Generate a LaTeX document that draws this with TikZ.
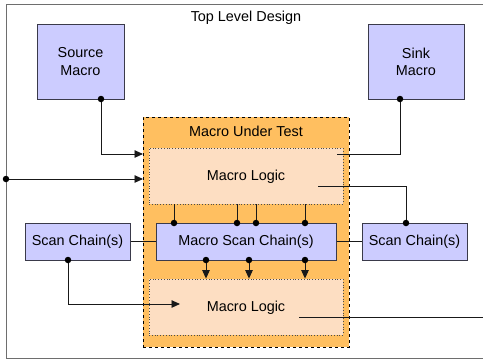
\documentclass[tikz,border=0pt]{standalone}
\usepackage{fontspec}
\setmainfont{Liberation Sans}
\usetikzlibrary{arrows.meta}
\definecolor{boxblue}{HTML}{CCCCFF}
\definecolor{mutorange}{HTML}{FFBF60}
\definecolor{logicpeach}{HTML}{FDDEC2}
\definecolor{framegray}{HTML}{6E6E6E}
\definecolor{edgedark}{HTML}{3A3A4A}
\tikzset{
  every node/.style={font=\fontsize{14.4}{17.3}\selectfont},
  bluebox/.style={draw=edgedark, fill=boxblue, line width=1pt, inner sep=0pt, align=center},
  mutbox/.style={draw=black, fill=mutorange, dashed, line width=1pt, inner sep=0pt},
  logicbox/.style={draw=black!70, fill=logicpeach, dotted, line width=0.8pt, inner sep=0pt},
  wire/.style={draw=black!90, line width=0.9pt},
  arrwire/.style={wire, -{Triangle[length=8.5pt,width=7.5pt]}},
  jdot/.style={circle, fill=black, inner sep=0pt, minimum size=6.5pt},
  lbl/.style={inner sep=0pt}
}
\begin{document}
\begin{tikzpicture}[x=1pt,y=-1pt]
\useasboundingbox (0,0) rectangle (483,360);
\clip (0,0) rectangle (483,360);
\fill[white] (0,0) rectangle (483,360);
% outer frame
\draw[framegray, line width=1pt] (6,4.5) rectangle (500,358);
\node[lbl] (tld) at (246,18) {Top Level Design};
% source / sink
\node[bluebox, minimum width=87pt, minimum height=75pt] (src) at (80.5,61.5) {Source\\Macro};
\node[bluebox, minimum width=96pt, minimum height=75pt] (snk) at (416,61.5) {Sink\\Macro};
% macro under test
\node[mutbox, minimum width=206pt, minimum height=230pt] (mut) at (246,232) {};
\node[lbl] (mutl) at (246,131) {Macro Under Test};
\node[logicbox, minimum width=194pt, minimum height=56pt] (ml1) at (246,176) {};
\node[lbl] (ml1t) at (246,177) {Macro Logic};
\node[logicbox, minimum width=194pt, minimum height=56pt] (ml2) at (246,307) {};
\node[lbl] (ml2t) at (246,308) {Macro Logic};
% scan chains
\node[bluebox, minimum width=105pt, minimum height=37pt] (scl) at (77.5,241.5) {Scan Chain(s)};
\node[bluebox, minimum width=180pt, minimum height=37pt] (msc) at (246,241.5) {Macro Scan Chain(s)};
\node[bluebox, minimum width=105pt, minimum height=37pt] (scr) at (414.5,241.5) {Scan Chain(s)};
% coordinates
\coordinate (srcd) at (101,99);
\coordinate (snkd) at (400,99);
\coordinate (lftd) at (6,179);
\coordinate (in1) at (143,154);
\coordinate (in2) at (143,179);
\coordinate (snke) at (337,154);
\coordinate (o1) at (318,186);
\coordinate (scrd) at (406,223);
\coordinate (scld) at (68,260);
\coordinate (in3) at (180,304);
\coordinate (o2) at (299,317);
\coordinate (o2e) at (490,317);
% wires
\draw[arrwire] (srcd) |- (in1);
\draw[arrwire] (lftd) -- (in2);
\draw[wire] (snkd) |- (snke);
\draw[wire] (o1) -| (scrd);
\draw[arrwire] (scld) |- (in3);
\draw[wire] (o2) -- (o2e);
\draw[wire] (scl.east) -- (msc.west);
\draw[wire] (msc.east) -- (scr.west);
\foreach \x/\n in {174/a,237/b,256/c,305/d}{
  \coordinate (u\n) at (\x,223);
  \draw[wire] (ml1.south -| u\n) -- (u\n);
  \node[jdot] at (u\n) {};
}
\foreach \x/\n in {206/a,249/b,305/c}{
  \coordinate (d\n) at (\x,260);
  \draw[arrwire] (d\n) -- (ml2.north -| d\n);
  \node[jdot] at (d\n) {};
}
\node[jdot] at (srcd) {};
\node[jdot] at (snkd) {};
\node[jdot] at (lftd) {};
\node[jdot] at (scrd) {};
\node[jdot] at (scld) {};
\end{tikzpicture}
\end{document}
